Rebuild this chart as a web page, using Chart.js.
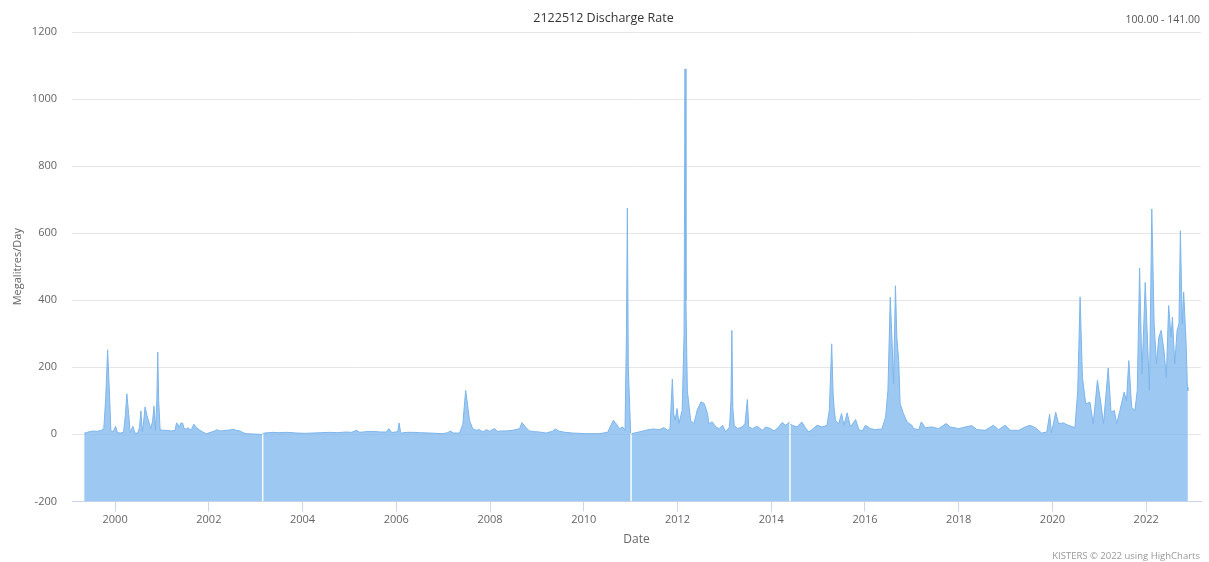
<!DOCTYPE html>
<html>
<head>
<meta charset="utf-8">
<title>2122512 Discharge Rate</title>
<script src="https://cdn.jsdelivr.net/npm/chart.js@4.4.1/dist/chart.umd.min.js"></script>
<style>
  html, body { margin: 0; padding: 0; background: #fff; }
  body { width: 1209px; height: 562px; position: relative; overflow: hidden; font-family: "Open Sans", "DejaVu Sans", sans-serif; }
  #wrap { position: absolute; left: 0; top: 0; width: 1209px; height: 562px; }
  .txt { position: absolute; white-space: nowrap; }
  #title { left: 0; width: 1207px; top: 9px; text-align: center; font-size: 12.5px; color: #333; }
  #range { right: 9px; top: 12px; font-size: 10.5px; color: #555; }
  #credits { right: 9px; top: 549px; font-size: 9.5px; color: #999; }
</style>
</head>
<body>
<div id="wrap"><canvas id="chart"></canvas></div>
<div class="txt" id="title">2122512 Discharge Rate</div>
<div class="txt" id="range">100.00 - 141.00</div>
<div class="txt" id="credits">KISTERS © 2022 using HighCharts</div>
<script>
// DATA (decimal years, Megalitres/Day), null = gap in record
const years = [
  1999.34, 1999.45, 1999.54, 1999.62, 1999.72, 1999.76, 1999.80, 1999.84, 1999.88, 1999.91,
  1999.96, 2000.01, 2000.05, 2000.12, 2000.18, 2000.22, 2000.25, 2000.29, 2000.32, 2000.38,
  2000.42, 2000.48, 2000.52, 2000.55, 2000.58, 2000.61, 2000.64, 2000.68, 2000.71, 2000.76,
  2000.80, 2000.83, 2000.86, 2000.89, 2000.91, 2000.93, 2000.96, 2001.02, 2001.10, 2001.20,
  2001.28, 2001.31, 2001.34, 2001.37, 2001.40, 2001.44, 2001.47, 2001.52, 2001.56, 2001.60,
  2001.64, 2001.68, 2001.71, 2001.74, 2001.81, 2001.88, 2001.95, 2002.06, 2002.12, 2002.17,
  2002.24, 2002.31, 2002.38, 2002.45, 2002.52, 2002.59, 2002.66, 2002.73, 2002.80, 2002.95,
  2003.09, 2003.14, 2003.15, 2003.16, 2003.19, 2003.28, 2003.37, 2003.50, 2003.66, 2003.87,
  2004.05, 2004.22, 2004.40, 2004.58, 2004.75, 2004.93, 2005.05, 2005.15, 2005.22, 2005.35,
  2005.50, 2005.65, 2005.79, 2005.84, 2005.90, 2005.93, 2006.03, 2006.06, 2006.09, 2006.11,
  2006.23, 2006.35, 2006.50, 2006.71, 2006.85, 2006.99, 2007.10, 2007.15, 2007.22, 2007.30,
  2007.35, 2007.42, 2007.46, 2007.48, 2007.51, 2007.56, 2007.63, 2007.70, 2007.77, 2007.85,
  2007.92, 2007.99, 2008.09, 2008.16, 2008.25, 2008.34, 2008.48, 2008.63, 2008.68, 2008.72,
  2008.77, 2008.84, 2008.95, 2009.05, 2009.19, 2009.34, 2009.39, 2009.48, 2009.60, 2009.76,
  2010.05, 2010.33, 2010.51, 2010.58, 2010.63, 2010.70, 2010.76, 2010.83, 2010.88, 2010.91,
  2010.93, 2010.95, 2011.00, 2011.01, 2011.02, 2011.18, 2011.32, 2011.47, 2011.61, 2011.71,
  2011.79, 2011.84, 2011.89, 2011.92, 2011.95, 2011.99, 2012.03, 2012.10, 2012.14, 2012.16,
  2012.18, 2012.21, 2012.28, 2012.35, 2012.42, 2012.50, 2012.57, 2012.64, 2012.67, 2012.74,
  2012.82, 2012.89, 2012.96, 2013.03, 2013.11, 2013.14, 2013.16, 2013.18, 2013.21, 2013.28,
  2013.38, 2013.44, 2013.49, 2013.52, 2013.60, 2013.70, 2013.81, 2013.88, 2013.99, 2014.06,
  2014.16, 2014.23, 2014.31, 2014.39, 2014.40, 2014.41, 2014.45, 2014.55, 2014.65, 2014.73,
  2014.80, 2014.87, 2014.98, 2015.09, 2015.19, 2015.24, 2015.29, 2015.32, 2015.34, 2015.37,
  2015.44, 2015.50, 2015.55, 2015.62, 2015.69, 2015.80, 2015.87, 2015.94, 2016.01, 2016.12,
  2016.22, 2016.36, 2016.44, 2016.49, 2016.54, 2016.58, 2016.61, 2016.65, 2016.68, 2016.72,
  2016.75, 2016.82, 2016.90, 2017.00, 2017.04, 2017.15, 2017.20, 2017.29, 2017.43, 2017.57,
  2017.73, 2017.82, 2018.00, 2018.14, 2018.28, 2018.39, 2018.57, 2018.74, 2018.85, 2018.99,
  2019.10, 2019.28, 2019.42, 2019.52, 2019.63, 2019.77, 2019.88, 2019.94, 2019.98, 2020.07,
  2020.13, 2020.23, 2020.34, 2020.48, 2020.54, 2020.59, 2020.64, 2020.71, 2020.80, 2020.87,
  2020.96, 2021.02, 2021.09, 2021.19, 2021.25, 2021.32, 2021.37, 2021.44, 2021.53, 2021.58,
  2021.63, 2021.69, 2021.76, 2021.81, 2021.86, 2021.91, 2021.95, 2021.98, 2022.02, 2022.07,
  2022.12, 2022.17, 2022.22, 2022.27, 2022.32, 2022.38, 2022.43, 2022.48, 2022.53, 2022.56,
  2022.61, 2022.66, 2022.70, 2022.73, 2022.77, 2022.80, 2022.85, 2022.88, 2022.89
];
const flow = [
  3, 8, 10, 9, 12, 20, 110, 252, 120, 10,
  8, 24, 5, 4, 6, 60, 121, 60, 5, 24,
  4, 3, 20, 70, 8, 40, 82, 55, 42, 17,
  40, 84, 12, 100, 245, 100, 14, 12, 12, 10,
  12, 34, 30, 20, 33, 34, 17, 16, 20, 12,
  18, 30, 25, 20, 12, 6, 2, 7, 10, 14,
  10, 11, 12, 13, 15, 12, 10, 5, 2, 1,
  0, 0, null, 3, 4, 5, 6, 5, 6, 4,
  3, 4, 5, 6, 5, 7, 6, 12, 6, 8,
  9, 7, 7, 17, 6, 6, 8, 34, 6, 4,
  6, 6, 5, 4, 3, 2, 5, 10, 4, 4,
  4, 30, 100, 131, 100, 42, 17, 12, 14, 7,
  14, 9, 17, 9, 10, 10, 12, 17, 35, 28,
  20, 10, 8, 7, 4, 9, 16, 9, 6, 4,
  2, 2, 6, 27, 42, 30, 17, 22, 12, 300,
  675, 200, 4, null, 2, 7, 12, 16, 14, 20,
  12, 17, 165, 60, 42, 77, 32, 72, 300, 1090,
  400, 130, 42, 32, 72, 97, 92, 62, 32, 37,
  22, 17, 27, 7, 22, 100, 310, 80, 27, 17,
  22, 32, 104, 22, 17, 24, 12, 22, 17, 10,
  22, 35, 27, 37, null, 30, 27, 22, 37, 20,
  7, 14, 27, 22, 27, 72, 270, 120, 82, 42,
  32, 62, 27, 64, 22, 44, 14, 10, 27, 17,
  14, 16, 51, 131, 409, 270, 151, 443, 290, 220,
  92, 62, 37, 27, 17, 14, 37, 20, 22, 17,
  32, 22, 17, 22, 26, 14, 12, 27, 14, 27,
  12, 12, 22, 27, 20, 4, 7, 60, 4, 66,
  32, 34, 27, 20, 131, 410, 170, 91, 96, 32,
  161, 106, 32, 198, 66, 71, 32, 71, 126, 101,
  220, 81, 71, 131, 496, 180, 330, 453, 310, 131,
  672, 330, 210, 290, 310, 250, 170, 384, 290, 350,
  210, 310, 330, 607, 330, 424, 280, 141, 130
];
const yearTicks = [2000, 2002, 2004, 2006, 2008, 2010, 2012, 2014, 2016, 2018, 2020, 2022];
const flowTicks = [-200, 0, 200, 400, 600, 800, 1000, 1200];

const points = years.map((x, i) => ({ x: x, y: flow[i] }));
const labelFont = { family: "'Open Sans', 'DejaVu Sans', sans-serif", size: 11 };

new Chart(document.getElementById("chart"), {
  type: "line",
  data: {
    datasets: [{
      label: "Discharge Rate",
      data: points,
      borderColor: "#7cb5ec",
      backgroundColor: "rgba(124,181,236,0.75)",
      borderWidth: 1,
      pointRadius: 0,
      tension: 0,
      spanGaps: false,
      fill: "start"
    }]
  },
  options: {
    responsive: true,
    maintainAspectRatio: false,
    animation: false,
    layout: { padding: { top: 32, right: 8, bottom: 15, left: 0 } },
    plugins: {
      legend: { display: false },
      tooltip: { enabled: false }
    },
    scales: {
      x: {
        type: "linear",
        min: 1999.08,
        max: 2023.17,
        afterBuildTicks: axis => { axis.ticks = yearTicks.map(v => ({ value: v })); },
        ticks: { color: "#666", font: labelFont, padding: 2, maxRotation: 0, callback: v => String(v) },
        grid: { drawOnChartArea: false, drawTicks: true, tickLength: 10, color: "#ccd6eb" },
        border: { display: true, color: "#ccd6eb" },
        title: { display: true, text: "Date", color: "#666", font: { family: labelFont.family, size: 12 }, padding: { top: 4, bottom: 0 } }
      },
      y: {
        min: -200,
        max: 1200,
        afterBuildTicks: axis => { axis.ticks = flowTicks.map(v => ({ value: v })); },
        afterFit: axis => { axis.width = 72; },
        ticks: { color: "#666", font: labelFont, padding: 15, callback: v => String(v) },
        grid: { color: "#e6e6e6", drawTicks: false },
        border: { display: false },
        title: { display: true, text: "Megalitres/Day", color: "#666", font: labelFont, padding: { top: 11, bottom: 0 } }
      }
    }
  }
});
</script>
</body>
</html>
